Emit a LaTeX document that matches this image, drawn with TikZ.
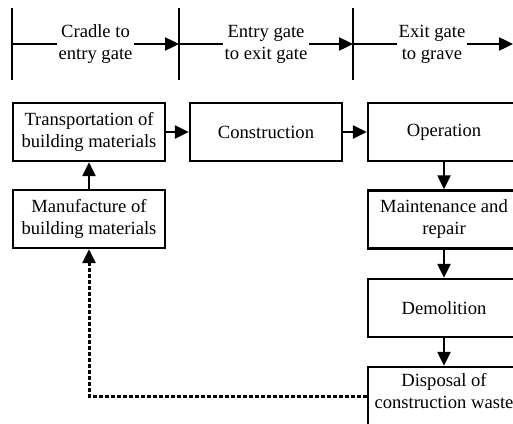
\documentclass[tikz,border=0pt]{standalone}
\usepackage{fontspec}
\setmainfont{Liberation Serif}
\usetikzlibrary{arrows.meta}
\begin{document}
\begin{tikzpicture}[x=1pt,y=-1pt,
  box/.style={draw,line width=2.4pt,minimum width=152pt,minimum height=58pt,align=center,inner sep=2pt,
    font=\fontsize{18.6}{22}\selectfont},
  txt/.style={align=center,inner sep=2pt,font=\fontsize{18.6}{22}\selectfont},
  conn/.style={line width=2.4pt,-{Triangle[length=14pt,width=13pt]}},
  gatebar/.style={line width=2.4pt},
  lab/.style={fill=white,align=center,inner sep=1.5pt,font=\fontsize{18.6}{22}\selectfont},
  fb/.style={line width=3pt,dash pattern=on 4pt off 2pt,-{Triangle[length=14pt,width=13pt]}}]
\useasboundingbox (0,0) rectangle (513,423);
\clip (0,0) rectangle (513,423);
% gates
\coordinate (g1) at (12,44);
\coordinate (g2) at (179,44);
\coordinate (g3) at (353,44);
\coordinate (g4) at (513,44);
\foreach \g in {g1,g2,g3}{\draw[gatebar] ([yshift=-36pt]\g) -- ([yshift=36pt]\g);}
\draw[conn] (g1) -- (g2) node[midway,lab]{Cradle to\\entry gate};
\draw[conn] (g2) -- (g3) node[midway,lab]{Entry gate\\to exit gate};
\draw[conn] (g3) -- (g4) node[midway,lab,xshift=-1pt]{Exit gate\\to grave};
% boxes
\node[box] (tr) at (89,132) {Transportation of\\building materials};
\node[box] (co) at (266,132) {Construction};
\node[box] (op) at (444,132) {Operation};
\node[box] (ma) at (444,219.5) {Maintenance and\\repair};
\node[box] (de) at (444,308) {Demolition};
\node[box,minimum height=70pt] (di) at (444,402) {};
\node[txt] (dit) at (444,391) {Disposal of\\construction waste};
\node[box] (mf) at (89,219) {Manufacture of\\building materials};
% connectors
\draw[conn] (mf) -- (tr);
\draw[conn] (tr) -- (co);
\draw[conn] (co) -- (op);
\draw[conn] (op) -- (ma);
\draw[conn] (ma) -- (de);
\draw[conn] (de) -- (di);
\coordinate (c1) at (89,396);
\draw[fb] (di.west |- c1) -- (c1) -- (mf.south);
\end{tikzpicture}
\end{document}
